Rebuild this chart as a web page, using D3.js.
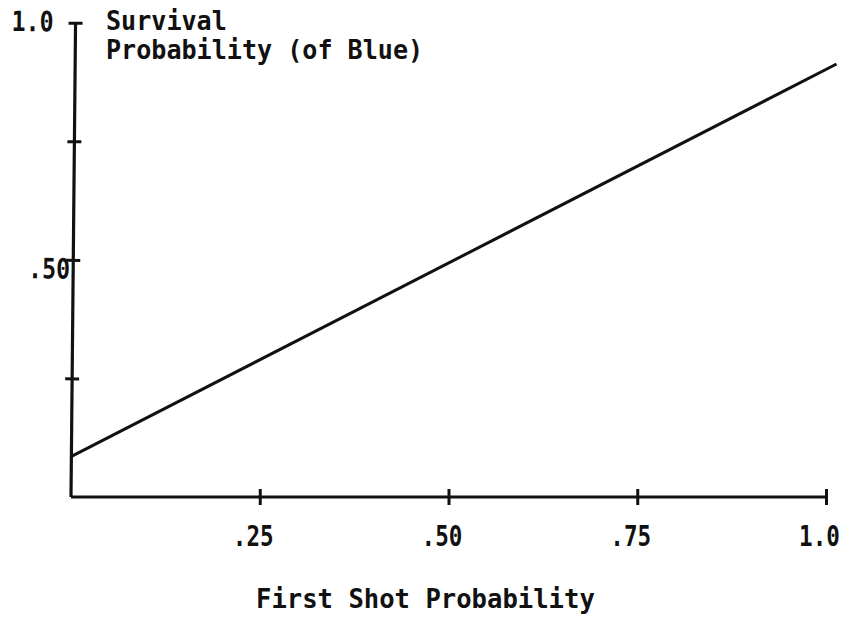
<!DOCTYPE html>
<html>
<head>
<meta charset="utf-8">
<script src="https://cdn.jsdelivr.net/npm/d3@7"></script>
<style>
  body { margin: 0; background: #fff; }
  text { font-family: "DejaVu Sans Mono", monospace; fill: #111; font-weight: bold; }
</style>
</head>
<body>
<svg id="chart" width="846" height="617"></svg>
<script>
// data
var firstShot = [0, 1.014]
var survival = [0.085, 0.913]
var xTicks = [0.25, 0.5, 0.75, 1.0]
var xTickLabels = ['.25', '.50', '.75', '1.0']
var yTicks = [0.25, 0.5, 0.75, 1.0]
var yTickLabels = ['', '.50', '', '1.0']
var yTitle = ['Survival', 'Probability (of Blue)']
var xTitle = 'First Shot Probability'

var svg = d3.select('#chart')

var x = d3.scaleLinear().domain([0, 1]).range([71, 826])
var y = d3.scaleLinear().domain([0, 1]).range([497, 22.7])

function squeeze(w) {
  return function (sel) {
    sel.attr('textLength', function () { return this.textContent.length * w })
      .attr('lengthAdjust', 'spacingAndGlyphs')
  }
}

// x axis
var xAxis = svg.append('g')
  .attr('transform', 'translate(0,' + y(0) + ')')
  .call(d3.axisBottom(x)
    .tickValues(xTicks)
    .tickSize(0)
    .tickPadding(0)
    .tickFormat(function (d, i) { return xTickLabels[i] }))

xAxis.select('.domain').attr('d', 'M' + x(0) + ',0H' + x(1))
  .attr('stroke', '#111').attr('stroke-width', 3)
xAxis.selectAll('.tick line')
  .attr('y1', -8).attr('y2', 8)
  .attr('stroke', '#111').attr('stroke-width', 3)
xAxis.selectAll('.tick text')
  .attr('y', 49).attr('dy', 0).attr('dx', -7)
  .style('font-size', '28px')
  .call(squeeze(13.6))

// y axis, scan is a touch skewed so the axis leans right at the top
var yAxis = svg.append('g')
  .attr('transform', 'translate(' + x(0) + ',0) rotate(0.55,' + 0 + ',' + y(0) + ')')
  .call(d3.axisLeft(y)
    .tickValues(yTicks)
    .tickSize(0)
    .tickPadding(0)
    .tickFormat(function (d, i) { return yTickLabels[i] }))

yAxis.select('.domain').attr('d', 'M0,' + y(0) + 'V' + y(1))
  .attr('stroke', '#111').attr('stroke-width', 3.2)
yAxis.selectAll('.tick line')
  .attr('x1', -7).attr('x2', 7)
  .attr('stroke', '#111').attr('stroke-width', 3)
yAxis.selectAll('.tick text')
  .attr('x', function (d) { return d === 1 ? -22 : -3 })
  .attr('dy', function (d) { return d === 1 ? '0.3em' : '0.65em' })
  .style('font-size', '28px')
  .call(squeeze(14))

// y title
svg.append('g').selectAll('text')
  .data(yTitle)
  .enter().append('text')
  .attr('x', 106)
  .attr('y', function (d, i) { return 30 + i * 29 })
  .style('font-size', '27px')
  .text(function (d) { return d })
  .call(squeeze(15.1))

// x title
svg.append('text')
  .attr('x', 256)
  .attr('y', 608)
  .style('font-size', '27px')
  .text(xTitle)
  .call(squeeze(15.4))

// survival line
var line = d3.line()
  .x(function (d) { return x(d[0]) })
  .y(function (d) { return y(d[1]) })

svg.append('path')
  .datum(d3.zip(firstShot, survival))
  .attr('d', line)
  .attr('fill', 'none')
  .attr('stroke', '#111')
  .attr('stroke-width', 3)
</script>
</body>
</html>
